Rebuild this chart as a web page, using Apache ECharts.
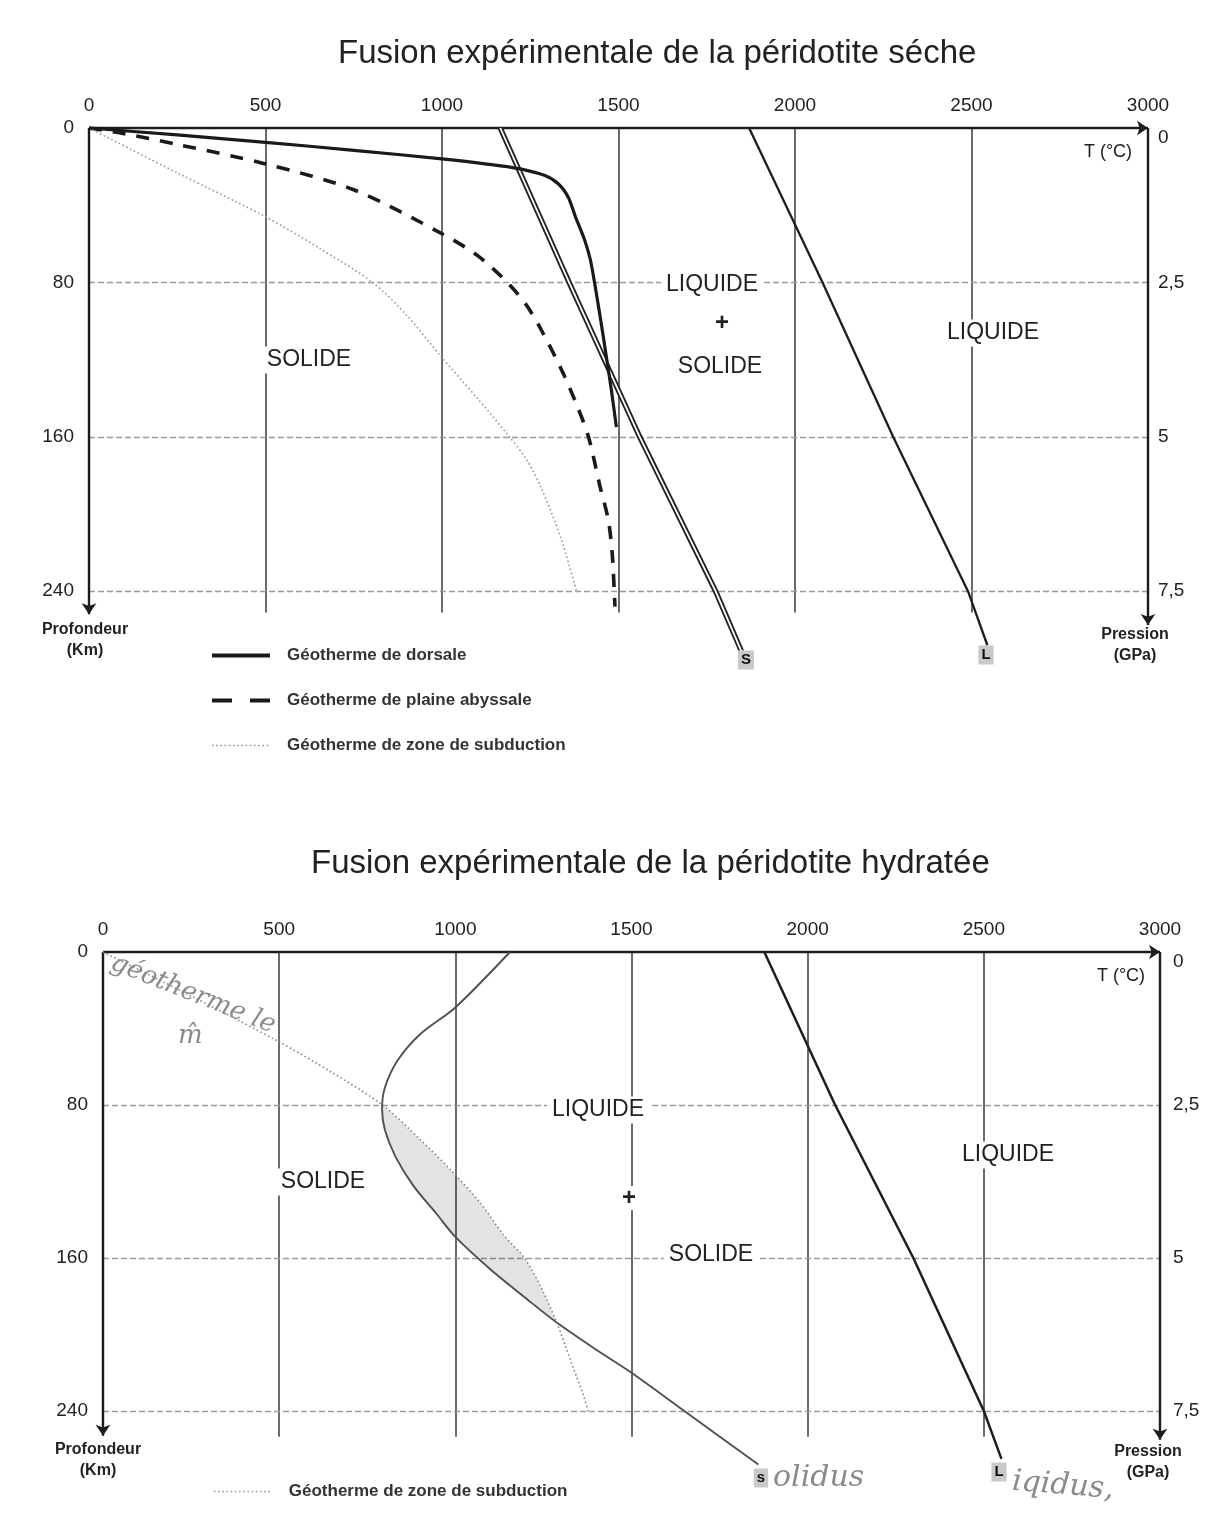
<!DOCTYPE html>
<html><head><meta charset="utf-8">
<script src="https://cdn.jsdelivr.net/npm/echarts@6/dist/echarts.min.js"></script>
<style>html,body{margin:0;padding:0;background:#fff}#c{width:1217px;height:1530px}</style>
</head><body><div id="c"></div>
<script>
// ---------- data (T in °C, depth in km) ----------
const tempTicks = [0, 500, 1000, 1500, 2000, 2500, 3000];
const depthTicks = [0, 80, 160, 240];
const pressureTicks = ['0', '2,5', '5', '7,5'];

// dry peridotite (top chart)
const dorsale = [[0,0],[250,3.6],[500,7.4],[750,11.6],[1000,16],[1200,20.5],[1290,24.5],[1330,29],[1358,36],[1378,46],[1404,58],[1420,68],[1433,81],[1450,100],[1466,119],[1480,136],[1494,155]];
const abyssale = [[0,0],[100,3],[250,8.5],[500,18.6],[750,32],[1000,54.8],[1100,66],[1185,80],[1240,92],[1287,106.6],[1343,127],[1385,145],[1415,160],[1448,186],[1471,203],[1482,220],[1488,240],[1490,248]];
const subductionTop = [[10,1],[253,23.5],[500,46],[650,62],[803,80],[900,97],[1000,119],[1100,140],[1191,160],[1240,172],[1280,186],[1336,212],[1381,240]];
const solidusTop = [[1165,0],[1360,80],[1560,160],[1775,240],[1848,271]];
const liquidusTop = [[1870,0],[2078,80],[2278,160],[2490,240],[2545,268]];

// hydrated peridotite (bottom chart)
const subductionBottom = [[0,0],[250,23],[500,47],[650,63],[793,80],[900,98],[992,115],[1070,131],[1137,148],[1196,160],[1245,176],[1286,193],[1330,215],[1364,232],[1378,241]];
const solidusBottom = [[1155,0],[1000,29],[900,43],[835,57],[800,71],[792,82],[800,93],[830,107],[880,122],[947,137],[1000,149],[1100,166],[1200,181],[1286,193.5],[1400,208],[1500,220],[1650,240],[1860,268]];
const liquidusBottom = [[1877,0],[2078,80],[2300,160],[2500,240],[2550,265]];

// ---------- chart ----------
const FONT = '"Liberation Sans", Arial, sans-serif';
const INK = '#222';
const N_DORS = 'Géotherme de dorsale';
const N_ABYS = 'Géotherme de plaine abyssale';
const N_SUB = 'Géotherme de zone de subduction';

function depthFmt(v) { return depthTicks.indexOf(v) >= 0 ? String(v) : ''; }
function presFmt(v) {
  const i = Math.round(v / 2.5);
  if (Math.abs(v - i * 2.5) < 1e-6 && i < pressureTicks.length) return i === 0 ? '{z|0}' : pressureTicks[i];
  return '';
}

function frame(vEnd, leftEnd, rightEnd) {
  const data = [];
  const ax = {color:'#1c1c1c', width:2.4, type:'solid'};
  const vs = {color:'#3a3a3a', width:1.5, type:'solid'};
  const hs = {color:'#9a9a9a', width:1.3, type:[6,3]};
  const tMax = tempTicks[tempTicks.length-1];
  tempTicks.slice(1, -1).forEach(t => data.push([{coord:[t,0], symbol:'none', lineStyle:vs},{coord:[t,vEnd], symbol:'none', lineStyle:vs}]));
  depthTicks.slice(1).forEach(d => data.push([{coord:[tempTicks[0],d], symbol:'none', lineStyle:hs},{coord:[tMax,d], symbol:'none', lineStyle:hs}]));
  data.push([{coord:[0,0], symbol:'none', lineStyle:ax},{coord:[tMax,0], symbol:'arrow', lineStyle:ax}]);
  data.push([{coord:[0,0], symbol:'none', lineStyle:ax},{coord:[0,leftEnd], symbol:'arrow', lineStyle:ax}]);
  data.push([{coord:[tMax,0], symbol:'none', lineStyle:ax},{coord:[tMax,rightEnd], symbol:'arrow', lineStyle:ax}]);
  return data;
}

function xAx(gi) {
  return {gridIndex:gi, type:'value', position:'top', min:0, max:3000, interval:500,
    axisLine:{show:false}, axisTick:{show:false}, splitLine:{show:false},
    axisLabel:{margin:13, fontSize:19, color:INK, fontFamily:FONT, formatter:v => String(v)}};
}
function yDepth(gi) {
  return {gridIndex:gi, type:'value', inverse:true, min:0, max:280, interval:40, position:'left',
    axisLine:{show:false}, axisTick:{show:false}, splitLine:{show:false},
    axisLabel:{margin:15, fontSize:19, color:INK, fontFamily:FONT, formatter:depthFmt}};
}
function yPres(gi, margin) {
  return {gridIndex:gi, type:'value', inverse:true, min:0, max:8.75, interval:1.25, position:'right',
    axisLine:{show:false}, axisTick:{show:false}, splitLine:{show:false},
    axisLabel:{margin:margin, fontSize:19, color:INK, fontFamily:FONT, formatter:presFmt, rich:{z:{fontSize:19, color:INK, fontFamily:FONT, padding:[20,0,0,0]}}}};
}
function frameSeries(xi, yi, vEnd, l, r) {
  return {type:'line', xAxisIndex:xi, yAxisIndex:yi, data:[[0,0]], showSymbol:false, lineStyle:{width:0}, silent:true, z:1,
    markLine:{silent:true, z:1, symbolSize:11, label:{show:false}, emphasis:{disabled:true}, animation:false, data:frame(vEnd, l, r)}};
}
function curve(name, xi, yi, data, ls, smooth, z) {
  return {name:name, type:'line', xAxisIndex:xi, yAxisIndex:yi, data:data, showSymbol:false,
    itemStyle:{color:'rgba(0,0,0,0)', opacity:0},
    smooth:smooth, lineStyle:ls, silent:true, z:z || 3};
}

const shading = {
  type:'custom', xAxisIndex:1, yAxisIndex:2, data:[[0,0]], silent:true, z:2,
  renderItem: function(params, api) {
    const a = solidusBottom.filter(p => p[1] >= 81 && p[1] <= 193.5);
    const b = subductionBottom.filter(p => p[1] >= 80 && p[1] <= 193).reverse();
    const pts = a.concat(b).map(p => api.coord(p));
    return {type:'polygon', shape:{points:pts, smooth:0.2}, style:{fill:'rgba(0,0,0,0.11)', stroke:null}};
  }
};

function txt(x, y, text, o) {
  o = o || {};
  return {type:'text', x:x, y:y, z:20, rotation:o.rot || 0, silent:true,
    style:{text:text, fill:o.fill || INK, fontSize:o.size || 23, fontFamily:o.family || FONT,
      fontWeight:o.weight || 'normal', fontStyle:o.style || 'normal',
      align:o.align || 'center', verticalAlign:'middle', textAlign:o.align || 'center', textVerticalAlign:'middle',
      backgroundColor:o.bg || null, padding:o.pad || 0, lineHeight:o.lh || null}};
}
const region = (x, y, t) => txt(x, y, t, {bg:'#fff', pad:[2,5]});
const box = (x, y, t) => txt(x, y, t, {size:15, weight:'bold', bg:'#c9c9c9', pad:[2,3], fill:'#111'});
const hand = (x, y, t, o) => txt(x, y, t, Object.assign({fill:'#8a8a8a', family:'"DejaVu Serif", serif', style:'italic', align:'left'}, o || {}));

const legendText = {fontSize:17, fontWeight:'bold', color:'#333', fontFamily:FONT, padding:[0,0,0,12]};
const option = {
  animation:false,
  backgroundColor:'#fff',
  title:[
    {text:'Fusion expérimentale de la péridotite séche', left:333, top:32, textStyle:{fontSize:33, fontWeight:'normal', color:INK, fontFamily:FONT}},
    {text:'Fusion expérimentale de la péridotite hydratée', left:306, top:842, textStyle:{fontSize:33, fontWeight:'normal', color:INK, fontFamily:FONT}}
  ],
  legend:[
    {orient:'vertical', left:205, top:642, itemWidth:58, itemHeight:16, itemGap:28, selectedMode:false,
      itemStyle:{opacity:0}, lineStyle:{width:'inherit'},
      data:[
        {name:N_DORS, lineStyle:{width:4}},
        {name:N_ABYS, lineStyle:{width:4, type:[20,18]}},
        {name:N_SUB}
      ], textStyle:legendText},
    {orient:'vertical', left:208, top:1478, itemWidth:58, itemHeight:16, selectedMode:false,
      itemStyle:{opacity:0}, lineStyle:{width:'inherit'}, data:[N_SUB], textStyle:legendText}
  ],
  grid:[
    {left:89, top:128, width:1059, height:540.4},
    {left:103, top:952, width:1057, height:535.5}
  ],
  xAxis:[xAx(0), xAx(1)],
  yAxis:[yDepth(0), yPres(0, 10), yDepth(1), yPres(1, 13)],
  series:[
    frameSeries(0, 0, 251, 252, 257.5),
    curve('solidus_sec_a', 0, 0, solidusTop, {color:'#222', width:5.5}, false, 3),
    curve('solidus_sec_b', 0, 0, solidusTop, {color:'#fff', width:1.8}, false, 4),
    curve('liquidus_sec', 0, 0, liquidusTop, {color:'#1e1e1e', width:2.3}, false, 3),
    curve(N_DORS, 0, 0, dorsale, {color:'#1a1a1a', width:3.2}, 0.25, 5),
    curve(N_ABYS, 0, 0, abyssale, {color:'#1a1a1a', width:3.6, type:[13,11]}, 0.3, 5),
    curve(N_SUB, 0, 0, subductionTop, {color:'#999', width:1.6, type:[1.6,2.6]}, 0.3, 5),

    frameSeries(1, 2, 253.5, 253, 255),
    shading,
    curve('solidus_hydr', 1, 2, solidusBottom, {color:'#505050', width:1.9}, 0.3, 3),
    curve('liquidus_hydr', 1, 2, liquidusBottom, {color:'#1e1e1e', width:2.5}, false, 3),
    curve(N_SUB + ' ', 1, 2, subductionBottom, {color:'#888', width:1.6, type:[1.6,2.6]}, 0.3, 5)
  ],
  graphic:[
    // top chart
    region(309, 360, 'SOLIDE'),
    region(712, 285, 'LIQUIDE'),
    txt(722, 323, '+', {size:24, weight:'bold'}),
    region(720, 367, 'SOLIDE'),
    region(993, 333, 'LIQUIDE'),
    txt(1108, 152, 'T (°C)', {size:18}),
    txt(85, 640, 'Profondeur\n(Km)', {size:16, weight:'bold', lh:21}),
    txt(1135, 645, 'Pression\n(GPa)', {size:16, weight:'bold', lh:21}),
    box(746, 660, 'S'),
    box(986, 655, 'L'),
    // bottom chart
    region(598, 1110, 'LIQUIDE'),
    region(323, 1182, 'SOLIDE'),
    txt(629, 1198, '+', {size:24, weight:'bold', bg:'#fff', pad:[0,3]}),
    region(711, 1255, 'SOLIDE'),
    region(1008, 1155, 'LIQUIDE'),
    txt(1121, 976, 'T (°C)', {size:18}),
    txt(98, 1460, 'Profondeur\n(Km)', {size:16, weight:'bold', lh:21}),
    txt(1148, 1462, 'Pression\n(GPa)', {size:16, weight:'bold', lh:21}),
    box(761, 1478, 's'),
    box(999, 1472, 'L'),
    hand(773, 1478, 'olidus', {size:30}),
    hand(1012, 1482, 'iqidus,', {size:30, rot:-0.08}),
    hand(112, 962, 'géotherme le', {size:26, rot:-0.38}),
    hand(178, 1036, 'm̂', {size:26})
  ]
};
echarts.init(document.getElementById('c')).setOption(option);
</script>
</body></html>
